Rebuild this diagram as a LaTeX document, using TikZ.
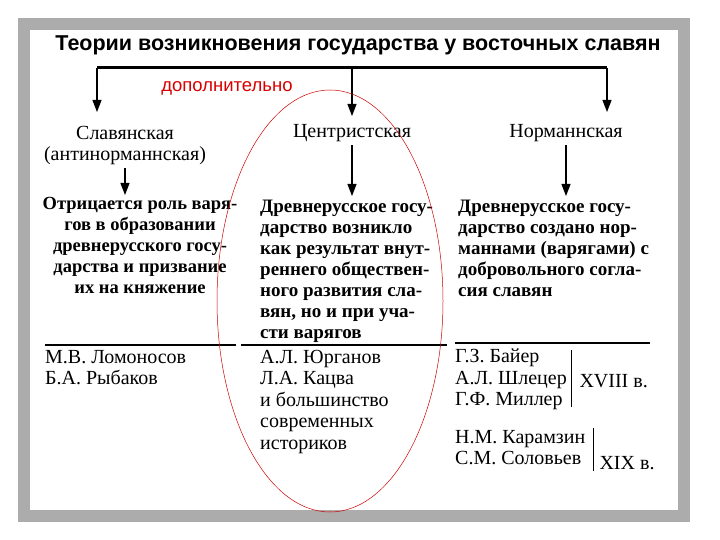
\documentclass[tikz,border=0pt]{standalone}
\usepackage{fontspec}
\setmainfont{Liberation Serif}
\setsansfont{Liberation Sans}
\usetikzlibrary{arrows.meta}
\begin{document}
\begin{tikzpicture}[x=1pt,y=-1pt,
  arr/.style={-{Triangle[length=12pt,width=9pt]},line width=1.2pt},
  hd/.style={font=\fontsize{20}{21}\selectfont,anchor=center},
  para/.style={font=\fontsize{19}{21}\selectfont\bfseries,align=left,anchor=north west,inner sep=0pt},
  nm/.style={font=\fontsize{20}{21.5}\selectfont,align=left,anchor=north west,inner sep=0pt}]
\useasboundingbox (0,0) rectangle (720,540);
\fill[white] (0,0) rectangle (720,540);
\fill[gray!65] (18,18) rectangle (690,522);
\fill[white] (30,30) rectangle (678,510);
\node (title) at (358,45) {\sffamily\bfseries\fontsize{21.5}{24}\selectfont Теории возникновения государства у восточных славян};
\coordinate (bl) at (97,68); \coordinate (bm) at (352,68); \coordinate (br) at (607,68);
\draw[line width=3pt] (bl) -- (br);
\coordinate (al) at (97,112); \coordinate (am) at (352,116); \coordinate (ar) at (607,112);
\draw[arr] (bl) -- (al); \draw[arr] (bm) -- (am); \draw[arr] (br) -- (ar);
\node[text=red!85!black,font=\sffamily\fontsize{18.5}{20}\selectfont] (dop) at (227,88) {дополнительно};
\node[hd,align=center,inner sep=1pt] (sl) at (125,146) {Славянская\\(антинорманнская)};
\node[hd] (ce) at (352,133) {Центристская};
\node[hd] (no) at (566,133) {Норманнская};
\draw[arr] (sl.south) ++(0,2) coordinate (s1) -- (125,195) coordinate (s2);
\draw[arr] (ce.south) -- (352,196) coordinate (c2);
\draw[arr] (no.south) -- (566,196) coordinate (n2);
\node[para,align=center,anchor=north,font=\fontsize{18.5}{21}\selectfont\bfseries] (tl) at (140,197) {Отрицается роль варя-\\гов в образовании\\древнерусского госу-\\дарства и призвание\\их на княжение};
\node[para] (tm) at (260,200) {Древнерусское госу-\\дарство возникло\\как результат внут-\\реннего обществен-\\ного развития сла-\\вян, но и при уча-\\сти варягов};
\node[para] (tr) at (458,200) {Древнерусское госу-\\дарство создано нор-\\маннами (варягами) с\\добровольного согла-\\сия славян};
\draw[line width=1.5pt] (45,345) -- (236,345);
\draw[line width=1.5pt] (241,345) -- (447,345);
\draw[line width=1.5pt] (455,343) -- (650,343);
\node[nm] (nl) at (45,350) {М.В. Ломоносов\\Б.А. Рыбаков};
\node[nm] (nmid) at (260,350) {А.Л. Юрганов\\Л.А. Кацва\\и большинство\\современных\\историков};
\node[nm] (nr1) at (455,349) {Г.З. Байер\\А.Л. Шлецер\\Г.Ф. Миллер};
\draw[line width=1pt] (571,350) -- (571,407);
\node[font=\fontsize{20}{20}\selectfont,anchor=west] (v18) at (576,381) {XVIII в.};
\node[nm] (nr2) at (455,430) {Н.М. Карамзин\\С.М. Соловьев};
\draw[line width=1pt] (593,428) -- (593,471);
\node[font=\fontsize{20}{20}\selectfont,anchor=west] (v19) at (596,463) {XIX в.};
\draw[red!80!black,line width=0.5pt] (330,301) ellipse [x radius=113, y radius=211];
\end{tikzpicture}
\end{document}
